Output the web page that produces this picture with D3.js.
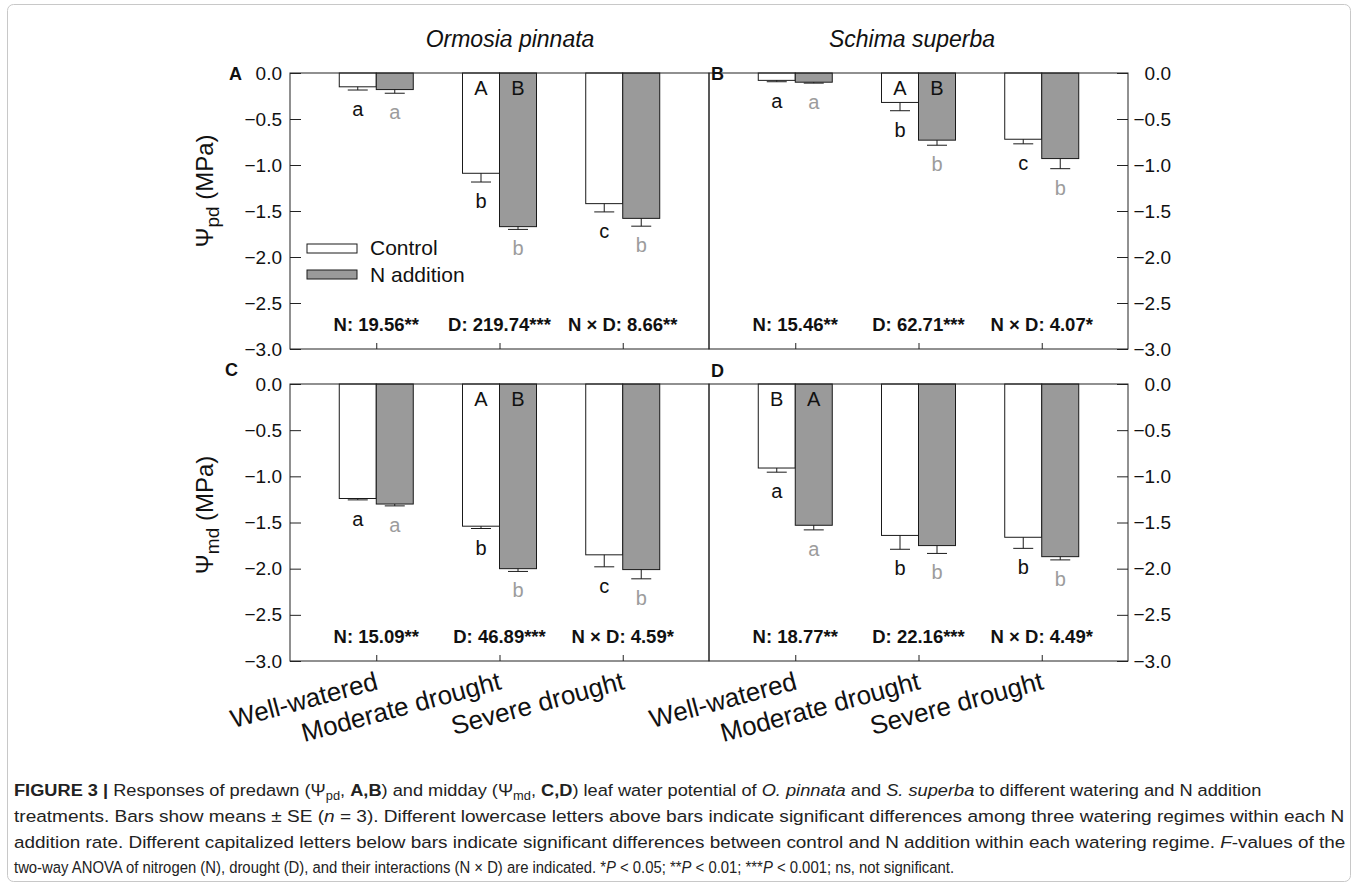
<!DOCTYPE html>
<html>
<head>
<meta charset="utf-8">
<script src="https://cdn.jsdelivr.net/npm/d3@7"></script>
<style>
  html, body { margin: 0; padding: 0; background: #fff; }
  svg { display: block; font-family: "Liberation Sans", Arial, sans-serif; }
</style>
</head>
<body>
<svg id="chart" width="1358" height="887"></svg>
<script>
// ---------------- DATA ----------------
const categories = ["Well-watered", "Moderate drought", "Severe drought"];
const seriesNames = ["Control", "N addition"];
const yTicks = [0, -0.5, -1.0, -1.5, -2.0, -2.5, -3.0];

// A: predawn, Ormosia pinnata
const pdOrmosiaControl = [-0.15, -1.09, -1.42];
const pdOrmosiaControlSE = [0.035, 0.095, 0.09];
const pdOrmosiaN = [-0.18, -1.67, -1.58];
const pdOrmosiaNSE = [0.04, 0.03, 0.085];
// B: predawn, Schima superba
const pdSchimaControl = [-0.08, -0.32, -0.72];
const pdSchimaControlSE = [0.015, 0.09, 0.05];
const pdSchimaN = [-0.10, -0.73, -0.93];
const pdSchimaNSE = [0.01, 0.055, 0.11];
// C: midday, Ormosia pinnata
const mdOrmosiaControl = [-1.24, -1.54, -1.85];
const mdOrmosiaControlSE = [0.015, 0.025, 0.13];
const mdOrmosiaN = [-1.30, -2.00, -2.01];
const mdOrmosiaNSE = [0.02, 0.03, 0.10];
// D: midday, Schima superba
const mdSchimaControl = [-0.91, -1.64, -1.66];
const mdSchimaControlSE = [0.045, 0.15, 0.12];
const mdSchimaN = [-1.53, -1.75, -1.87];
const mdSchimaNSE = [0.05, 0.085, 0.035];

// significance letters
const lowerA_ctrl = ["a", "b", "c"], lowerA_N = ["a", "b", "b"];
const lowerB_ctrl = ["a", "b", "c"], lowerB_N = ["a", "b", "b"];
const lowerC_ctrl = ["a", "b", "c"], lowerC_N = ["a", "b", "b"];
const lowerD_ctrl = ["a", "b", "b"], lowerD_N = ["a", "b", "b"];
const upperA_ctrl = ["", "A", ""], upperA_N = ["", "B", ""];
const upperB_ctrl = ["", "A", ""], upperB_N = ["", "B", ""];
const upperC_ctrl = ["", "A", ""], upperC_N = ["", "B", ""];
const upperD_ctrl = ["B", "", ""], upperD_N = ["A", "", ""];

// ANOVA F-values
const statsA = ["N: 19.56**", "D: 219.74***", "N × D: 8.66**"];
const statsB = ["N: 15.46**", "D: 62.71***", "N × D: 4.07*"];
const statsC = ["N: 15.09**", "D: 46.89***", "N × D: 4.59*"];
const statsD = ["N: 18.77**", "D: 22.16***", "N × D: 4.49*"];

const speciesTitles = ["Ormosia pinnata", "Schima superba"];

// ---------------- LAYOUT ----------------
const svg = d3.select("#chart");
const FONT = '"Liberation Sans", Arial, sans-serif';
const nFill = "#9a9a9a";
const grayText = "#9c9c9c";
const axisColor = "#222";

// outer frame
svg.append("rect").attr("x", 7.5).attr("y", 4.5).attr("width", 1343).attr("height", 877)
  .attr("rx", 6).attr("fill", "none").attr("stroke", "#c8c8c8").attr("stroke-width", 1);

const PW = 419;
const panels = [
  { label: "A", x0: 290, y0: 73, h: 276, side: "left",  ctrl: pdOrmosiaControl, ctrlSE: pdOrmosiaControlSE, nv: pdOrmosiaN, nSE: pdOrmosiaNSE, lowC: lowerA_ctrl, lowN: lowerA_N, upC: upperA_ctrl, upN: upperA_N, stats: statsA, legend: true,  xlabels: false, labPos: [229, 80] },
  { label: "B", x0: 709, y0: 73, h: 276, side: "right", ctrl: pdSchimaControl, ctrlSE: pdSchimaControlSE, nv: pdSchimaN, nSE: pdSchimaNSE, lowC: lowerB_ctrl, lowN: lowerB_N, upC: upperB_ctrl, upN: upperB_N, stats: statsB, legend: false, xlabels: false, labPos: [711, 80] },
  { label: "C", x0: 290, y0: 384, h: 277, side: "left",  ctrl: mdOrmosiaControl, ctrlSE: mdOrmosiaControlSE, nv: mdOrmosiaN, nSE: mdOrmosiaNSE, lowC: lowerC_ctrl, lowN: lowerC_N, upC: upperC_ctrl, upN: upperC_N, stats: statsC, legend: false, xlabels: true, labPos: [225, 376] },
  { label: "D", x0: 709, y0: 384, h: 277, side: "right", ctrl: mdSchimaControl, ctrlSE: mdSchimaControlSE, nv: mdSchimaN, nSE: mdSchimaNSE, lowC: lowerD_ctrl, lowN: lowerD_N, upC: upperD_ctrl, upN: upperD_N, stats: statsD, legend: false, xlabels: true, labPos: [711, 377] }
];

panels.forEach(p => {
  const g = svg.append("g").attr("transform", `translate(${p.x0},${p.y0})`);
  const x = d3.scalePoint().domain(categories).range([0, PW]).padding(0.7);
  const x1 = d3.scaleBand().domain(seriesNames).range([-37, 37]).padding(0);
  const y = d3.scaleLinear().domain([-3, 0]).range([p.h, 0]);

  const rows = categories.map((c, i) => ([
    { cat: c, s: "Control", v: p.ctrl[i], se: p.ctrlSE[i], low: p.lowC[i], up: p.upC[i], fill: "#fff", lc: "#111" },
    { cat: c, s: "N addition", v: p.nv[i], se: p.nSE[i], low: p.lowN[i], up: p.upN[i], fill: nFill, lc: grayText }
  ])).flat();

  // bars
  g.selectAll("rect.bar").data(rows).join("rect").attr("class", "bar")
    .attr("x", d => x(d.cat) + x1(d.s))
    .attr("y", y(0))
    .attr("width", x1.bandwidth())
    .attr("height", d => y(d.v) - y(0))
    .attr("fill", d => d.fill)
    .attr("stroke", "#1a1a1a").attr("stroke-width", 1);

  // error bars (downward)
  const eg = g.selectAll("g.err").data(rows).join("g").attr("class", "err");
  eg.append("line")
    .attr("x1", d => x(d.cat) + x1(d.s) + x1.bandwidth() / 2)
    .attr("x2", d => x(d.cat) + x1(d.s) + x1.bandwidth() / 2)
    .attr("y1", d => y(d.v)).attr("y2", d => y(d.v - d.se))
    .attr("stroke", "#1a1a1a").attr("stroke-width", 1);
  eg.append("line")
    .attr("x1", d => x(d.cat) + x1(d.s) + x1.bandwidth() / 2 - 10)
    .attr("x2", d => x(d.cat) + x1(d.s) + x1.bandwidth() / 2 + 10)
    .attr("y1", d => y(d.v - d.se)).attr("y2", d => y(d.v - d.se))
    .attr("stroke", "#1a1a1a").attr("stroke-width", 1);

  // lowercase letters
  g.selectAll("text.low").data(rows).join("text").attr("class", "low")
    .attr("x", d => x(d.cat) + x1(d.s) + x1.bandwidth() / 2)
    .attr("y", d => y(d.v - d.se) + 26)
    .attr("text-anchor", "middle").attr("font-size", 20)
    .attr("fill", d => d.lc).text(d => d.low);

  // uppercase letters
  g.selectAll("text.up").data(rows.filter(d => d.up)).join("text").attr("class", "up")
    .attr("x", d => x(d.cat) + x1(d.s) + x1.bandwidth() / 2)
    .attr("y", y(0) + 22)
    .attr("text-anchor", "middle").attr("font-size", 20)
    .attr("fill", "#111").text(d => d.up);

  // stats
  g.selectAll("text.stat").data(p.stats).join("text").attr("class", "stat")
    .attr("x", (d, i) => x(categories[i]))
    .attr("y", p.h - 18)
    .attr("text-anchor", "middle").attr("font-size", 18.5).attr("font-weight", "bold")
    .attr("fill", "#111").text(d => d);

  // frame
  g.append("rect").attr("x", 0).attr("y", 0).attr("width", PW).attr("height", p.h)
    .attr("fill", "none").attr("stroke", axisColor).attr("stroke-width", 1);

  // y axis
  if (p.side === "left") {
    const ax = g.append("g").call(d3.axisLeft(y).tickValues(yTicks).tickFormat(d3.format(".1f"))
      .tickSizeInner(-11).tickSizeOuter(0).tickPadding(8));
    ax.select(".domain").remove();
    ax.selectAll("line").attr("stroke", axisColor);
    ax.selectAll("text").attr("font-size", 19).attr("font-family", FONT).attr("fill", "#111");
  } else {
    const ax = g.append("g").attr("transform", `translate(${PW},0)`)
      .call(d3.axisRight(y).tickValues(yTicks).tickFormat(d3.format(".1f"))
      .tickSizeInner(-11).tickSizeOuter(0).tickPadding(8));
    ax.select(".domain").remove();
    ax.selectAll("line").attr("stroke", axisColor);
    ax.selectAll("text").attr("font-size", 19).attr("font-family", FONT).attr("fill", "#111")
      .attr("text-anchor", "end").attr("x", 43);
  }

  // x axis ticks
  const xa = g.append("g").attr("transform", `translate(0,${p.h})`)
    .call(d3.axisBottom(x).tickSizeInner(-6).tickSizeOuter(0).tickFormat(""));
  xa.select(".domain").remove();
  xa.selectAll("line").attr("stroke", axisColor);

  if (p.xlabels) {
    g.selectAll("text.xl").data(categories).join("text").attr("class", "xl")
      .attr("transform", d => `translate(${x(d) + 3},${p.h + 28}) rotate(-15)`)
      .attr("text-anchor", "end").attr("font-size", 26).attr("fill", "#111").text(d => d);
  }

  if (p.legend) {
    const lg = g.append("g");
    const items = seriesNames.map((s, i) => ({ s, fill: i === 0 ? "#fff" : nFill }));
    lg.selectAll("rect").data(items).join("rect")
      .attr("x", 17).attr("y", (d, i) => 171 + i * 26)
      .attr("width", 50).attr("height", 9)
      .attr("fill", d => d.fill).attr("stroke", "#1a1a1a").attr("stroke-width", 1);
    lg.selectAll("text").data(items).join("text")
      .attr("x", 80).attr("y", (d, i) => 182 + i * 27)
      .attr("font-size", 21).attr("fill", "#111").text(d => d.s);
  }

  // panel label
  svg.append("text").attr("x", p.labPos[0]).attr("y", p.labPos[1])
    .attr("font-size", 18).attr("font-weight", "bold").attr("fill", "#111").text(p.label);
});

// species titles
svg.append("text").attr("x", 510).attr("y", 47).attr("text-anchor", "middle")
  .attr("font-size", 23).attr("font-style", "italic").attr("fill", "#111").text(speciesTitles[0]);
svg.append("text").attr("x", 912).attr("y", 47).attr("text-anchor", "middle")
  .attr("font-size", 23).attr("font-style", "italic").attr("fill", "#111").text(speciesTitles[1]);

// y titles
function yTitle(cx, cy, sub) {
  const t = svg.append("text").attr("transform", `translate(${cx},${cy}) rotate(-90)`)
    .attr("text-anchor", "middle").attr("font-size", 24).attr("fill", "#111");
  t.append("tspan").text("Ψ");
  t.append("tspan").attr("font-size", 19).attr("dy", 6).text(sub);
  t.append("tspan").attr("dy", -6).text(" (MPa)");
}
yTitle(213, 191, "pd");
yTitle(213, 515, "md");

// ---------------- CAPTION ----------------
const captionLines = [
  [["FIGURE 3", "b"], [" | ", "b"], ["Responses of predawn (Ψ", ""], ["pd", "sub"], [", ", ""], ["A,B", "b"], [") and midday (Ψ", ""], ["md", "sub"], [", ", ""], ["C,D", "b"], [") leaf water potential of ", ""], ["O. pinnata", "i"], [" and ", ""], ["S. superba", "i"], [" to different watering and N addition", ""]],
  [["treatments. Bars show means ± SE (", ""], ["n", "i"], [" = 3). Different lowercase letters above bars indicate significant differences among three watering regimes within each N", ""]],
  [["addition rate. Different capitalized letters below bars indicate significant differences between control and N addition within each watering regime. ", ""], ["F", "i"], ["-values of the", ""]],
  [["two-way ANOVA of nitrogen (N), drought (D), and their interactions (N × D) are indicated. *", ""], ["P", "i"], [" < 0.05; **", ""], ["P", "i"], [" < 0.01; ***", ""], ["P", "i"], [" < 0.001; ns, not significant.", ""]]
];
const captionEnds = [1262, 1345, 1346, 955];
const captionBase = [796, 822, 848, 873];
const capX = 14;
captionLines.forEach((line, li) => {
  const t = svg.append("text").attr("font-size", 17).attr("fill", "#222");
  let shifted = false;
  line.forEach(([s, st]) => {
    const ts = t.append("tspan").text(s);
    if (st === "b") ts.attr("font-weight", "bold");
    if (st === "i") ts.attr("font-style", "italic");
    if (st === "sub") { ts.attr("font-size", 12).attr("dy", 4); shifted = true; }
    else if (shifted) { ts.attr("dy", -4); shifted = false; }
  });
  const w = t.node().getComputedTextLength();
  const sx = (captionEnds[li] - capX) / w;
  t.attr("transform", `translate(${capX},${captionBase[li]}) scale(${sx},1)`);
});
</script>
</body>
</html>
